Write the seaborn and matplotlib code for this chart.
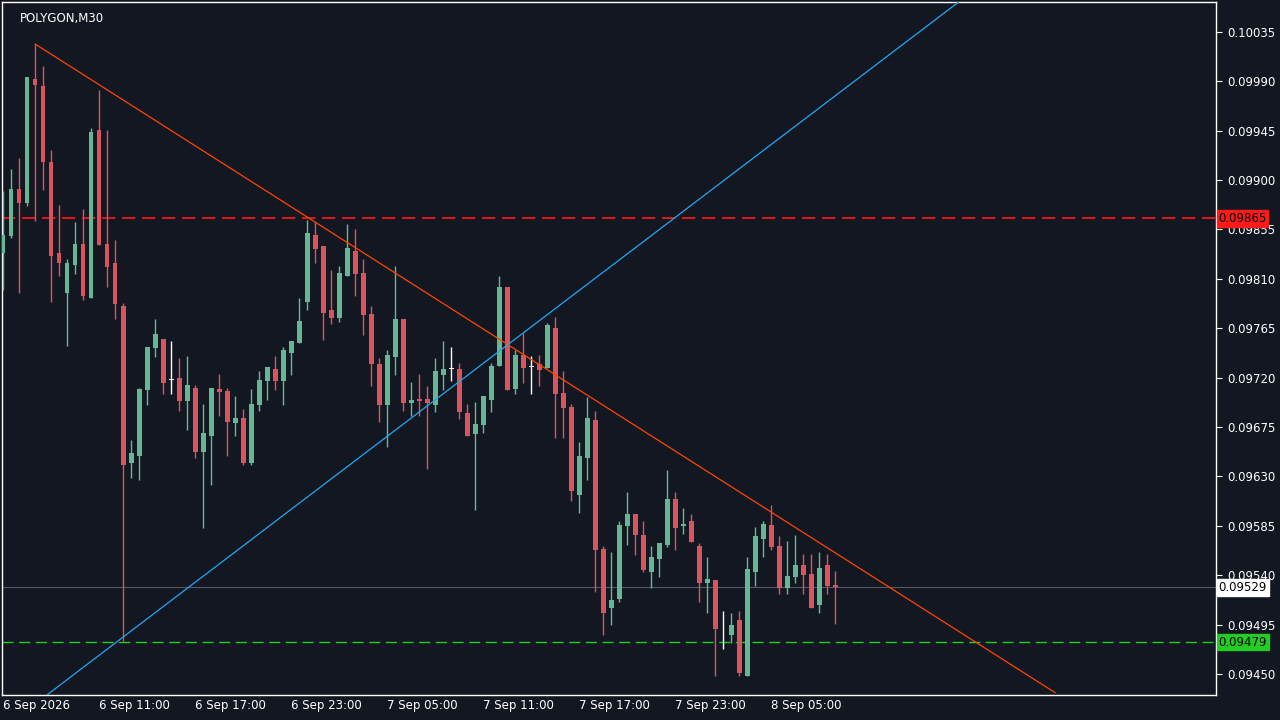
import numpy as np
import pandas as pd
import matplotlib
matplotlib.use("Agg")
import matplotlib.pyplot as plt
import seaborn as sns

# OHLC in units of 1e-5 (0.09865 -> 9865)
opens = [9834,9849,9892,9879,9992,9986,9916,9834,9797,9823,9842,9793,9946,9842,9824,9785,9642,9649,9709,9747,
         9755,9718,9720,9699,9711,9652,9667,9710,9708,9679,9683,9642,9695,9717,9728,9717,9742,9752,9789,9850,
         9840,9782,9774,9813,9835,9815,9778,9732,9695,9739,9773,9697,9701,9701,9695,9722,9728,9728,9688,9669,
         9677,9700,9731,9803,9710,9741,9730,9732,9729,9765,9706,9693,9613,9647,9681,9564,9510,9518,9585,9596,
         9577,9543,9555,9568,9609,9585,9589,9567,9533,9536,9489,9486,9499,9448,9543,9573,9586,9567,9528,9538,
         9549,9541,9513,9549,9531]
highs = [9890,9910,9920,9994,10024,10004,9927,9877,9828,9862,9874,9947,9982,9946,9845,9788,9663,9711,9748,9773,
         9755,9753,9738,9740,9713,9696,9711,9723,9711,9703,9691,9710,9726,9730,9740,9748,9753,9793,9864,9862,
         9840,9818,9822,9860,9855,9828,9785,9738,9745,9822,9773,9716,9723,9712,9738,9753,9748,9733,9696,9698,
         9703,9733,9813,9803,9745,9761,9740,9741,9770,9775,9726,9696,9661,9702,9690,9567,9561,9589,9616,9596,
         9589,9567,9569,9636,9616,9601,9596,9569,9557,9536,9507,9506,9507,9557,9584,9589,9604,9576,9571,9577,
         9559,9559,9561,9559,9544]
lows = [9800,9847,9797,9876,9863,9891,9789,9813,9749,9814,9791,9793,9841,9803,9773,9480,9629,9627,9695,9739,
        9705,9705,9690,9672,9647,9583,9622,9685,9649,9667,9640,9640,9690,9700,9709,9695,9722,9752,9782,9824,
        9754,9769,9771,9813,9794,9759,9712,9680,9657,9722,9690,9685,9685,9637,9689,9709,9717,9682,9667,9599,
        9670,9689,9731,9709,9705,9715,9705,9712,9729,9665,9665,9608,9597,9627,9525,9486,9495,9516,9568,9558,
        9543,9528,9538,9566,9563,9578,9570,9516,9506,9448,9473,9478,9448,9448,9530,9557,9563,9523,9523,9533,
        9523,9510,9506,9523,9496]
closes = [9850,9892,9879,9994,9987,9916,9831,9824,9824,9842,9794,9944,9841,9821,9787,9640,9651,9710,9748,9760,
          9715,9718,9699,9713,9652,9670,9711,9707,9680,9683,9642,9696,9718,9730,9717,9745,9753,9772,9852,9837,
          9779,9774,9815,9838,9814,9777,9732,9695,9741,9773,9697,9700,9699,9697,9726,9728,9728,9689,9667,9678,
          9703,9731,9803,9709,9741,9729,9730,9727,9768,9705,9692,9617,9649,9683,9563,9506,9517,9586,9596,9577,
          9545,9557,9569,9609,9583,9587,9570,9533,9537,9491,9489,9495,9451,9546,9576,9587,9566,9528,9539,9549,
          9540,9510,9547,9530,9529]

date_labels = ["6 Sep 2026", "6 Sep 11:00", "6 Sep 17:00", "6 Sep 23:00", "7 Sep 05:00",
               "7 Sep 11:00", "7 Sep 17:00", "7 Sep 23:00", "8 Sep 05:00"]
date_label_bars = [0, 12, 24, 36, 48, 60, 72, 84, 96]

price_ticks = [10035, 9990, 9945, 9900, 9855, 9810, 9765, 9720, 9675, 9630, 9585, 9540, 9495, 9450]
resistance_level = 9865
support_level = 9479
last_price = 9529

# trend line anchors (bar index, price)
down_trend_x = [4, 131.5]
down_trend_y = [10024, 9433]
up_trend_x = [5.5, 119.4]
up_trend_y = [9431, 10062]

SCALE = 1e-5
BG = "#131722"
GREEN = "#66b894"
RED = "#d9545f"

sns.set_style("dark", {"axes.facecolor": BG, "figure.facecolor": BG})
plt.rcParams["font.family"] = ["DejaVu Sans"]

df = pd.DataFrame({"o": opens, "h": highs, "l": lows, "c": closes})
df = df * SCALE
df["i"] = np.arange(len(df))

fig = plt.figure(figsize=(12.8, 7.2), dpi=100, facecolor=BG)
ax = fig.add_axes([2/1280, 25/720, 1214/1280, 693/720])
ax.set_facecolor(BG)

ymin, ymax = 9430.9 * SCALE, 10062.2 * SCALE
ax.set_xlim(-0.125, 151.6)
ax.set_ylim(ymin, ymax)

# horizontal levels
ax.axhline(last_price * SCALE, color="#555a66", lw=0.8, zorder=1)
ax.axhline(resistance_level * SCALE, color="#ff1a1a", lw=1.2, ls=(0, (8, 4)), zorder=1)
ax.axhline(support_level * SCALE, color="#22cc22", lw=1.0, ls=(0, (8, 4)), zorder=1)

# candles
colors = []
for o, c in zip(df["o"], df["c"]):
    if abs(o - c) < 1e-9:
        colors.append("white")
    elif c > o:
        colors.append(GREEN)
    else:
        colors.append(RED)
ax.vlines(df["i"], df["l"], df["h"], colors=colors, lw=1.0, zorder=3)
bottoms = np.minimum(df["o"], df["c"])
heights = np.maximum(np.abs(df["c"] - df["o"]), 0.6 * SCALE)
ax.bar(df["i"], heights, bottom=bottoms, width=0.62, color=colors, linewidth=0, zorder=4)

# trend lines
def extend(xs, ys):
    slope = (ys[1] - ys[0]) / (xs[1] - xs[0])
    return xs, ys
tl = pd.DataFrame({"x": down_trend_x, "y": np.array(down_trend_y) * SCALE})
sns.lineplot(data=tl, x="x", y="y", ax=ax, color="#ff4500", lw=0.9, zorder=5)
tu = pd.DataFrame({"x": up_trend_x, "y": np.array(up_trend_y) * SCALE})
sns.lineplot(data=tu, x="x", y="y", ax=ax, color="#1eaaf0", lw=0.9, zorder=5)
ax.set_xlim(-0.125, 151.6)
ax.set_ylim(ymin, ymax)

# spines
for s in ax.spines.values():
    s.set_color("white")
    s.set_linewidth(1.0)
ax.set_xlabel("")
ax.set_ylabel("")

# y axis on right
ax.yaxis.tick_right()
ax.set_yticks([p * SCALE for p in price_ticks])
ax.set_yticklabels([f"{p*SCALE:.5f}" for p in price_ticks], color="white", fontsize=8.5)
ax.tick_params(axis="y", colors="white", length=4, pad=4, labelcolor="white")

# x axis
ax.set_xticks(date_label_bars)
ax.set_xticklabels([])
ax.tick_params(axis="x", colors="white", length=4, direction="out")
for b, lab in zip(date_label_bars, date_labels):
    ax.text(b, -0.006, lab, transform=ax.get_xaxis_transform(), color="white",
            fontsize=8.5, ha="left", va="top")

# price labels on axis
def price_box(val, fc, tc):
    ax.text(1.002, val * SCALE, f"{val*SCALE:.5f}", transform=ax.get_yaxis_transform(),
            color=tc, fontsize=8.5, ha="left", va="center",
            bbox=dict(boxstyle="square,pad=0.15", fc=fc, ec=fc), zorder=10, clip_on=False)
price_box(resistance_level, "#ff1a1a", "black")
price_box(support_level, "#22cc22", "black")
price_box(last_price, "white", "black")

ax.text(0.015, 0.985, "POLYGON,M30", transform=ax.transAxes, color="white",
        fontsize=8.5, ha="left", va="top")

ax.grid(False)
fig.savefig("out.png", dpi=100, facecolor=BG)
